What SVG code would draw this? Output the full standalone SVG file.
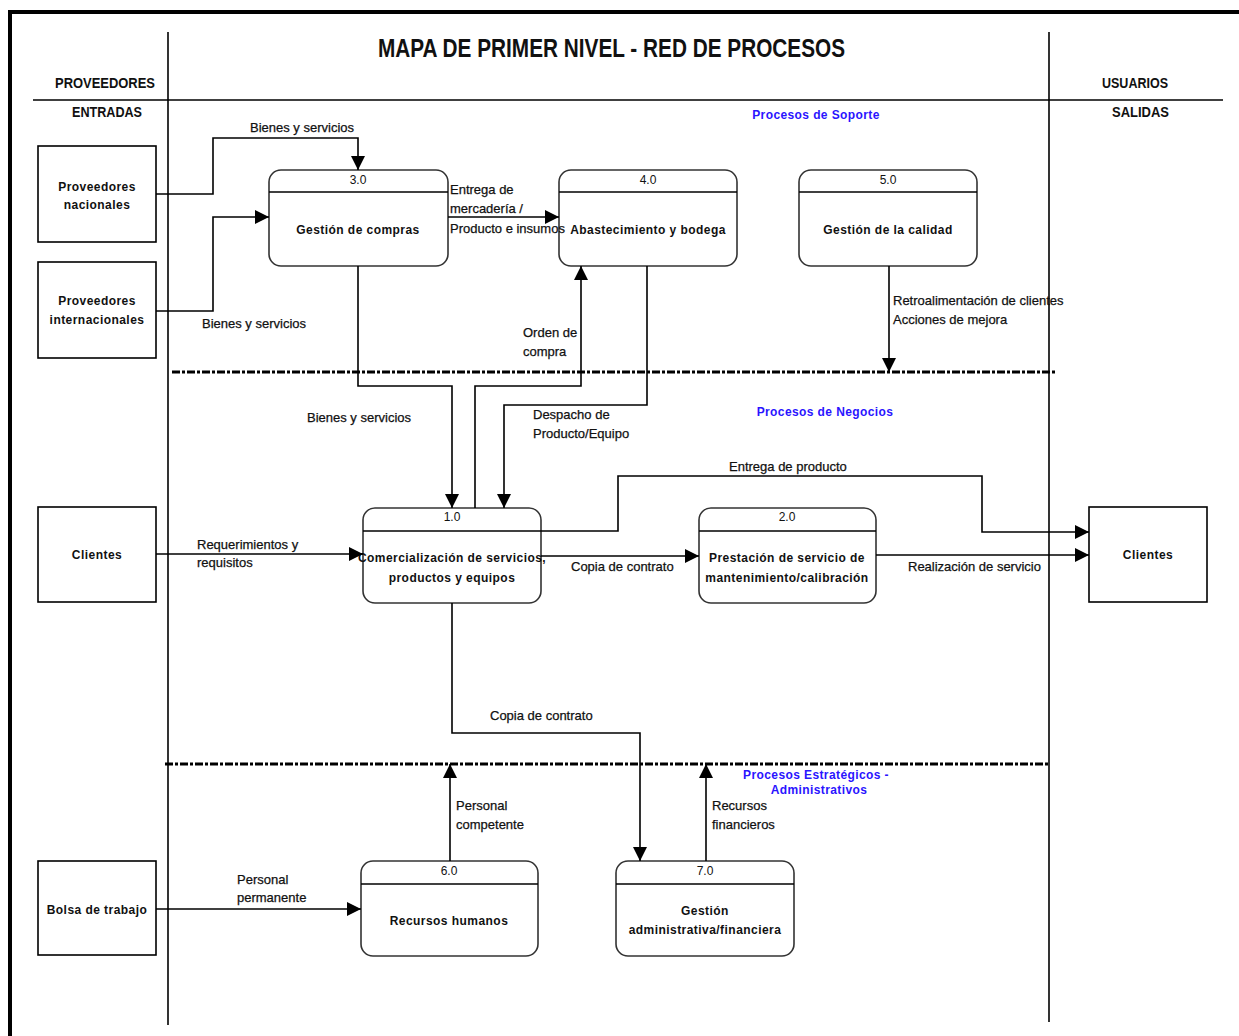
<svg xmlns="http://www.w3.org/2000/svg" width="1239" height="1036" viewBox="0 0 1239 1036">
<defs>
<style>
.ln{fill:none;stroke:#000;stroke-width:1.6}
.ent{fill:#fff;stroke:#000;stroke-width:1.6}
.proc{fill:#fff;stroke:#333;stroke-width:1.6}
.dash{fill:none;stroke:#000;stroke-width:3;stroke-dasharray:8 2 3 2}
.bt{font-family:"Liberation Sans",Arial,sans-serif;font-size:12px;font-weight:bold;fill:#111;text-anchor:middle;letter-spacing:0.45px}
.num{font-family:"Liberation Sans",Arial,sans-serif;font-size:12px;fill:#111;text-anchor:middle}
.lb{font-family:"Liberation Sans",Arial,sans-serif;font-size:13px;fill:#111;stroke:#111;stroke-width:0.25}
.blue{font-family:"Liberation Sans",Arial,sans-serif;font-size:12px;font-weight:bold;fill:#2a14ff;text-anchor:middle;letter-spacing:0.4px}
.hd{font-family:"Liberation Sans",Arial,sans-serif;font-size:15px;font-weight:bold;fill:#111}
</style>
<marker id="ar" viewBox="0 0 10 10" refX="10" refY="5" markerWidth="14" markerHeight="14" markerUnits="userSpaceOnUse" orient="auto">
<path d="M0,0 L10,5 L0,10 Z" fill="#000"/>
</marker>
</defs>
<rect width="1239" height="1036" fill="#fff"/>
<g id="frame">
<path d="M10,1036 V12 H1239" fill="none" stroke="#000" stroke-width="4"/>
<line x1="168" y1="32" x2="168" y2="1025" stroke="#000" stroke-width="1.6"/>
<line x1="1049" y1="32" x2="1049" y2="1022" stroke="#000" stroke-width="1.6"/>
<line x1="33" y1="100" x2="1223" y2="100" stroke="#000" stroke-width="1.6"/>
<line x1="172" y1="372" x2="1055" y2="372" class="dash"/>
<line x1="165" y1="764" x2="1048" y2="764" class="dash"/>
<text x="378" y="57" font-family="'Liberation Sans',Arial,sans-serif" font-size="26" font-weight="bold" fill="#111" textLength="467" lengthAdjust="spacingAndGlyphs">MAPA DE PRIMER NIVEL - RED DE PROCESOS</text>
<text x="55" y="88" class="hd" textLength="100" lengthAdjust="spacingAndGlyphs">PROVEEDORES</text>
<text x="72" y="117" class="hd" textLength="70" lengthAdjust="spacingAndGlyphs">ENTRADAS</text>
<text x="1102" y="88" class="hd" textLength="66" lengthAdjust="spacingAndGlyphs">USUARIOS</text>
<text x="1112" y="117" class="hd" textLength="57" lengthAdjust="spacingAndGlyphs">SALIDAS</text>
<text x="816" y="119" class="blue">Procesos de Soporte</text>
<text x="825" y="416" class="blue">Procesos de Negocios</text>
<text x="816" y="779" class="blue">Procesos Estratégicos -</text>
<text x="819" y="794" class="blue">Administrativos</text>
</g>
<g id="prov-nacionales">
<rect class="ent" x="38" y="146" width="118" height="96"/>
<text class="bt" x="97" y="191">Proveedores</text>
<text class="bt" x="97" y="209">nacionales</text>
</g>
<g id="prov-internacionales">
<rect class="ent" x="38" y="262" width="118" height="96"/>
<text class="bt" x="97" y="305">Proveedores</text>
<text class="bt" x="97" y="324">internacionales</text>
</g>
<g id="clientes-in">
<rect class="ent" x="38" y="507" width="118" height="95"/>
<text class="bt" x="97" y="559">Clientes</text>
</g>
<g id="bolsa">
<rect class="ent" x="38" y="861" width="118" height="94"/>
<text class="bt" x="97" y="914">Bolsa de trabajo</text>
</g>
<g id="clientes-out">
<rect class="ent" x="1089" y="507" width="118" height="95"/>
<text class="bt" x="1148" y="559">Clientes</text>
</g>
<g id="p3">
<rect class="proc" x="269" y="170" width="179" height="96" rx="12"/>
<line x1="269" y1="192" x2="448" y2="192" stroke="#000" stroke-width="1.6"/>
<text class="num" x="358" y="184">3.0</text>
<text class="bt" x="358" y="234">Gestión de compras</text>
</g>
<g id="p4">
<rect class="proc" x="559" y="170" width="178" height="96" rx="12"/>
<line x1="559" y1="192" x2="737" y2="192" stroke="#000" stroke-width="1.6"/>
<text class="num" x="648" y="184">4.0</text>
<text class="bt" x="648" y="234">Abastecimiento y bodega</text>
</g>
<g id="p5">
<rect class="proc" x="799" y="170" width="178" height="96" rx="12"/>
<line x1="799" y1="192" x2="977" y2="192" stroke="#000" stroke-width="1.6"/>
<text class="num" x="888" y="184">5.0</text>
<text class="bt" x="888" y="234">Gestión de la calidad</text>
</g>
<g id="p1">
<rect class="proc" x="363" y="508" width="178" height="95" rx="12"/>
<line x1="363" y1="531" x2="541" y2="531" stroke="#000" stroke-width="1.6"/>
<text class="num" x="452" y="521">1.0</text>
<text class="bt" x="452" y="562">Comercialización de servicios,</text>
<text class="bt" x="452" y="582">productos y equipos</text>
</g>
<g id="p2">
<rect class="proc" x="699" y="508" width="177" height="95" rx="12"/>
<line x1="699" y1="531" x2="876" y2="531" stroke="#000" stroke-width="1.6"/>
<text class="num" x="787" y="521">2.0</text>
<text class="bt" x="787" y="562">Prestación de servicio de</text>
<text class="bt" x="787" y="582">mantenimiento/calibración</text>
</g>
<g id="p6">
<rect class="proc" x="361" y="861" width="177" height="95" rx="12"/>
<line x1="361" y1="884" x2="538" y2="884" stroke="#000" stroke-width="1.6"/>
<text class="num" x="449" y="875">6.0</text>
<text class="bt" x="449" y="925">Recursos humanos</text>
</g>
<g id="p7">
<rect class="proc" x="616" y="861" width="178" height="95" rx="12"/>
<line x1="616" y1="884" x2="794" y2="884" stroke="#000" stroke-width="1.6"/>
<text class="num" x="705" y="875">7.0</text>
<text class="bt" x="705" y="915">Gestión</text>
<text class="bt" x="705" y="934">administrativa/financiera</text>
</g>
<g id="connectors">
<path class="ln" d="M156,194 H213 V138 H358 V170" marker-end="url(#ar)"/>
<path class="ln" d="M156,311 H213 V217 H269" marker-end="url(#ar)"/>
<path class="ln" d="M448,217 H559" marker-end="url(#ar)"/>
<path class="ln" d="M358,266 V386 H452 V508" marker-end="url(#ar)"/>
<path class="ln" d="M475,508 V386 H581 V266" marker-end="url(#ar)"/>
<path class="ln" d="M647,266 V405 H504 V508" marker-end="url(#ar)"/>
<path class="ln" d="M889,266 V372" marker-end="url(#ar)"/>
<path class="ln" d="M156,554 H363" marker-end="url(#ar)"/>
<path class="ln" d="M541,531 H618 V476 H982 V532 H1089" marker-end="url(#ar)"/>
<path class="ln" d="M541,556 H699" marker-end="url(#ar)"/>
<path class="ln" d="M876,555 H1089" marker-end="url(#ar)"/>
<path class="ln" d="M452,603 V733 H640 V861" marker-end="url(#ar)"/>
<path class="ln" d="M156,909 H361" marker-end="url(#ar)"/>
<path class="ln" d="M450,861 V764" marker-end="url(#ar)"/>
<path class="ln" d="M706,861 V764" marker-end="url(#ar)"/>
<text class="lb" x="250" y="132">Bienes y servicios</text>
<text class="lb" x="202" y="328">Bienes y servicios</text>
<text class="lb" x="450" y="194">Entrega de</text>
<text class="lb" x="450" y="213">mercadería /</text>
<text class="lb" x="450" y="233">Producto e insumos</text>
<text class="lb" x="523" y="337">Orden de</text>
<text class="lb" x="523" y="356">compra</text>
<text class="lb" x="307" y="422">Bienes y servicios</text>
<text class="lb" x="533" y="419">Despacho de</text>
<text class="lb" x="533" y="438">Producto/Equipo</text>
<text class="lb" x="893" y="305">Retroalimentación de clientes</text>
<text class="lb" x="893" y="324">Acciones de mejora</text>
<text class="lb" x="729" y="471">Entrega de producto</text>
<text class="lb" x="197" y="549">Requerimientos y</text>
<text class="lb" x="197" y="567">requisitos</text>
<text class="lb" x="571" y="571">Copia de contrato</text>
<text class="lb" x="908" y="571">Realización de servicio</text>
<text class="lb" x="490" y="720">Copia de contrato</text>
<text class="lb" x="237" y="884">Personal</text>
<text class="lb" x="237" y="902">permanente</text>
<text class="lb" x="456" y="810">Personal</text>
<text class="lb" x="456" y="829">competente</text>
<text class="lb" x="712" y="810">Recursos</text>
<text class="lb" x="712" y="829">financieros</text>
</g>
</svg>
